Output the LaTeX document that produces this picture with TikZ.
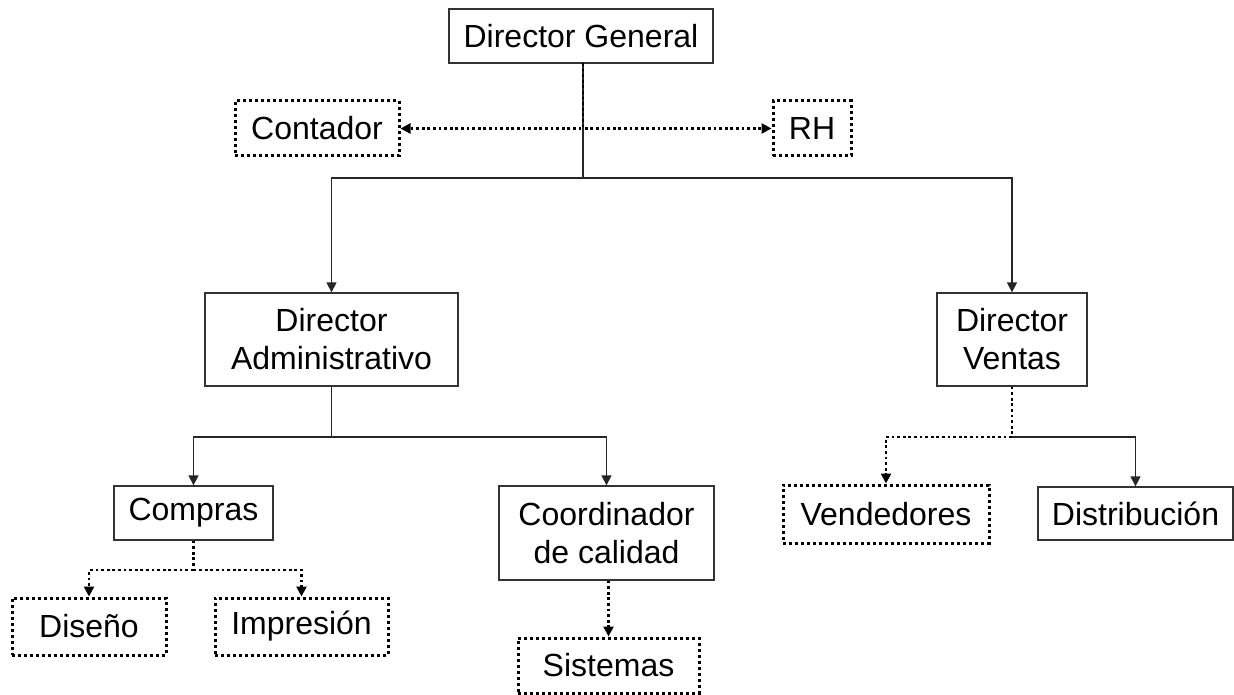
\documentclass[tikz,border=0pt]{standalone}
\usepackage{fontspec}
\setmainfont{Liberation Sans}
\usetikzlibrary{arrows.meta}
\begin{document}
\begin{tikzpicture}[x=1pt,y=-1pt]
\tikzset{
 box/.style={draw=black!80, line width=1.3pt, inner sep=0pt, align=center, font=\fontsize{32}{38}\selectfont},
 dbox/.style={box, draw=black, line width=3pt, dash pattern=on 3pt off 3pt},
 sline/.style={draw=black!85, line width=1.3pt},
 dline/.style={draw=black, line width=2.8pt, dash pattern=on 2.8pt off 2.8pt},
 arr/.style={-{Triangle[length=10pt,width=10pt]}},
}
\useasboundingbox (0,0) rectangle (1234,695);
\fill[white] (0,0) rectangle (1234,695);
% nodes
\node[box, minimum width=264pt, minimum height=54pt] (DG) at (581,36) {Director General};
\node[dbox, minimum width=164pt, minimum height=55pt] (Cont) at (317,128.5) {Contador};
\node[dbox, minimum width=78pt, minimum height=55pt] (RH) at (812,128.5) {RH};
\node[box, minimum width=253pt, minimum height=93pt] (DA) at (331.5,339.5) {Director\\Administrativo};
\node[box, minimum width=150pt, minimum height=93pt] (DV) at (1012,339.5) {Director\\Ventas};
\node[box, minimum width=159pt, minimum height=54pt] (Comp) at (193.5,513) {Compras};
\node[box, minimum width=215pt, minimum height=94pt] (Coord) at (606.5,533) {Coordinador\\de calidad};
\node[dbox, minimum width=154pt, minimum height=57pt] (Dis) at (89,626.5) {Diseño};
\node[dbox, minimum width=173pt, minimum height=57pt] (Imp) at (301.5,626.5) {Impresión};
\node[dbox, minimum width=181pt, minimum height=55pt] (Sis) at (608.5,665.5) {Sistemas};
\node[dbox, minimum width=206pt, minimum height=58pt] (Vend) at (886,514) {Vendedores};
\node[box, minimum width=195pt, minimum height=53pt] (Dist) at (1135.5,513.5) {Distribución};
% junctions
\coordinate (b1) at (583,178);
\coordinate (j0) at (583,63);
\coordinate (b2) at (331.5,437);
\coordinate (b3) at (193.5,570);
\coordinate (b4) at (1012,437);
% connectors
\draw[sline] (j0) -- (b1);
\draw[sline,arr] (b1) -| (DA.north);
\draw[sline,arr] (b1) -| (DV.north);
\draw[dline,arr] (j0) |- (Cont.east);
\draw[dline,arr] (j0) |- (RH.west);
\draw[sline] (DA.south) -- (b2);
\draw[sline,arr] (b2) -| (Comp.north);
\draw[sline,arr] (b2) -| (Coord.north);
\draw[dline] (Comp.south) -- (b3);
\draw[dline,arr] (b3) -| (Dis.north);
\draw[dline,arr] (b3) -| (Imp.north);
\draw[dline,arr] (Sis.north |- Coord.south) -- (Sis.north);
\draw[dline] (DV.south) -- (b4);
\draw[dline,arr] (b4) -| (Vend.north);
\draw[sline,arr] (b4) -| (Dist.north);
\end{tikzpicture}
\end{document}
